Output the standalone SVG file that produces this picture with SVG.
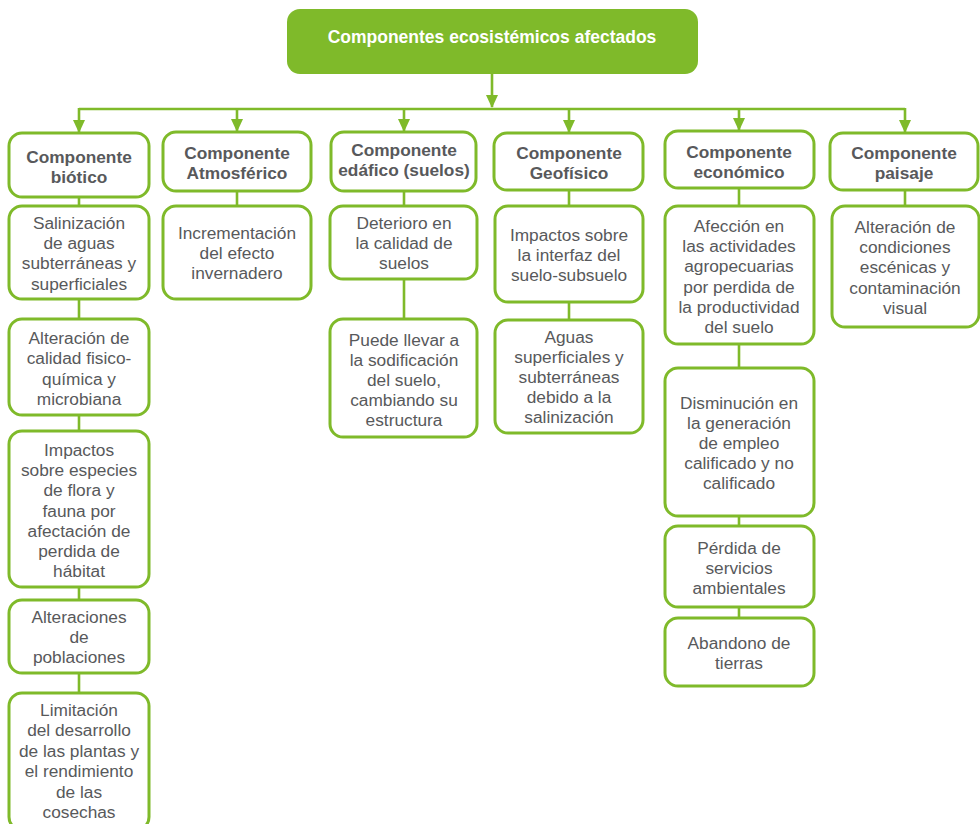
<svg xmlns="http://www.w3.org/2000/svg" width="980" height="824" viewBox="0 0 980 824">
<defs>
<marker id="ah" markerUnits="userSpaceOnUse" markerWidth="14" markerHeight="14" viewBox="0 0 14 14" refX="12" refY="7" orient="auto">
<path d="M0,1 L13,7 L0,13 Z" fill="#7fba2a"/>
</marker>
<style>
.box{fill:#fff;stroke:#7fba2a;stroke-width:3}
.hd{font-family:"Liberation Sans",Arial,sans-serif;font-weight:bold;font-size:17.3px;fill:#58595b;text-anchor:middle}
.tx{font-family:"Liberation Sans",Arial,sans-serif;font-size:17.3px;fill:#58595b;text-anchor:middle}
.ln{stroke:#7fba2a;stroke-width:2.6;fill:none}
.ar{stroke:#7fba2a;stroke-width:2.6;fill:none;marker-end:url(#ah)}
</style>
</defs>
<rect width="980" height="824" fill="#fff"/>

<g id="connectors">
<line class="ar" x1="492" y1="74" x2="492" y2="107"/>
<line class="ln" x1="79" y1="109" x2="905" y2="109"/>
<line class="ar" x1="79" y1="108" x2="79" y2="132"/>
<line class="ar" x1="237" y1="108" x2="237" y2="131"/>
<line class="ar" x1="404" y1="108" x2="404" y2="131"/>
<line class="ar" x1="569" y1="108" x2="569" y2="132"/>
<line class="ar" x1="739" y1="108" x2="739" y2="130"/>
<line class="ar" x1="905" y1="108" x2="905" y2="132"/>
<line class="ln" x1="79" y1="197" x2="79" y2="206"/>
<line class="ln" x1="79" y1="299" x2="79" y2="319"/>
<line class="ln" x1="79" y1="415" x2="79" y2="431"/>
<line class="ln" x1="79" y1="587" x2="79" y2="600"/>
<line class="ln" x1="79" y1="673" x2="79" y2="693"/>
<line class="ln" x1="237" y1="191" x2="237" y2="206"/>
<line class="ln" x1="404" y1="191" x2="404" y2="206"/>
<line class="ln" x1="404" y1="279" x2="404" y2="319"/>
<line class="ln" x1="569" y1="190" x2="569" y2="206"/>
<line class="ln" x1="569" y1="302" x2="569" y2="320"/>
<line class="ln" x1="739" y1="188" x2="739" y2="206"/>
<line class="ln" x1="739" y1="344" x2="739" y2="368"/>
<line class="ln" x1="739" y1="516" x2="739" y2="526"/>
<line class="ln" x1="739" y1="607" x2="739" y2="618"/>
<line class="ln" x1="905" y1="190" x2="905" y2="206"/>
</g>

<g id="root">
<rect x="287" y="9" width="411" height="65" rx="13" fill="#7fba2a"/>
<text x="492" y="43" font-family="Liberation Sans, Arial, sans-serif" font-weight="bold" font-size="17.5" fill="#fff" text-anchor="middle">Componentes ecosistémicos afectados</text>
</g>

<g id="h-biotico">
<rect class="box" x="9" y="133" width="140" height="64" rx="13"/>
<text class="hd" x="79"><tspan x="79" y="163">Componente</tspan><tspan x="79" y="183">biótico</tspan></text>
</g>
<g id="h-atmosferico">
<rect class="box" x="163" y="132" width="148" height="59" rx="13"/>
<text class="hd"><tspan x="237" y="159">Componente</tspan><tspan x="237" y="179">Atmosférico</tspan></text>
</g>
<g id="h-edafico">
<rect class="box" x="331" y="132" width="145" height="59" rx="13"/>
<text class="hd"><tspan x="404" y="156">Componente</tspan><tspan x="404" y="176">edáfico (suelos)</tspan></text>
</g>
<g id="h-geofisico">
<rect class="box" x="494" y="133" width="149" height="57" rx="13"/>
<text class="hd"><tspan x="569" y="159">Componente</tspan><tspan x="569" y="179">Geofísico</tspan></text>
</g>
<g id="h-economico">
<rect class="box" x="665" y="131" width="149" height="57" rx="13"/>
<text class="hd"><tspan x="739" y="158">Componente</tspan><tspan x="739" y="178">económico</tspan></text>
</g>
<g id="h-paisaje">
<rect class="box" x="830" y="133" width="148" height="57" rx="13"/>
<text class="hd"><tspan x="904" y="159">Componente</tspan><tspan x="904" y="179">paisaje</tspan></text>
</g>

<g id="b1">
<rect class="box" x="9" y="206" width="140" height="93" rx="13"/>
<text class="tx"><tspan x="79" y="229">Salinización</tspan><tspan x="79" y="249">de aguas</tspan><tspan x="79" y="269">subterráneas y</tspan><tspan x="79" y="290">superficiales</tspan></text>
</g>
<g id="b2">
<rect class="box" x="9" y="319" width="140" height="96" rx="13"/>
<text class="tx"><tspan x="79" y="344">Alteración de</tspan><tspan x="79" y="364">calidad fisico-</tspan><tspan x="79" y="385">química y</tspan><tspan x="79" y="405">microbiana</tspan></text>
</g>
<g id="b3">
<rect class="box" x="9" y="431" width="140" height="156" rx="13"/>
<text class="tx"><tspan x="79" y="456">Impactos</tspan><tspan x="79" y="476">sobre especies</tspan><tspan x="79" y="496">de flora y</tspan><tspan x="79" y="517">fauna por</tspan><tspan x="79" y="537">afectación de</tspan><tspan x="79" y="557">perdida de</tspan><tspan x="79" y="577">hábitat</tspan></text>
</g>
<g id="b4">
<rect class="box" x="9" y="600" width="140" height="73" rx="13"/>
<text class="tx"><tspan x="79" y="623">Alteraciones</tspan><tspan x="79" y="643">de</tspan><tspan x="79" y="663">poblaciones</tspan></text>
</g>
<g id="b5">
<rect class="box" x="9" y="693" width="140" height="137" rx="13"/>
<text class="tx"><tspan x="79" y="716">Limitación</tspan><tspan x="79" y="736">del desarrollo</tspan><tspan x="79" y="757">de las plantas y</tspan><tspan x="79" y="777">el rendimiento</tspan><tspan x="79" y="798">de las</tspan><tspan x="79" y="818">cosechas</tspan></text>
</g>

<g id="a1">
<rect class="box" x="163" y="206" width="148" height="93" rx="13"/>
<text class="tx"><tspan x="237" y="239">Incrementación</tspan><tspan x="237" y="259">del efecto</tspan><tspan x="237" y="279">invernadero</tspan></text>
</g>

<g id="e1">
<rect class="box" x="330" y="206" width="147" height="73" rx="13"/>
<text class="tx"><tspan x="404" y="229">Deterioro en</tspan><tspan x="404" y="249">la calidad de</tspan><tspan x="404" y="269">suelos</tspan></text>
</g>
<g id="e2">
<rect class="box" x="330" y="319" width="147" height="118" rx="13"/>
<text class="tx"><tspan x="404" y="346">Puede llevar a</tspan><tspan x="404" y="366">la sodificación</tspan><tspan x="404" y="386">del suelo,</tspan><tspan x="404" y="406">cambiando su</tspan><tspan x="404" y="426">estructura</tspan></text>
</g>

<g id="g1">
<rect class="box" x="495" y="206" width="148" height="96" rx="13"/>
<text class="tx"><tspan x="569" y="241">Impactos sobre</tspan><tspan x="569" y="261">la interfaz del</tspan><tspan x="569" y="281">suelo-subsuelo</tspan></text>
</g>
<g id="g2">
<rect class="box" x="495" y="320" width="148" height="113" rx="13"/>
<text class="tx"><tspan x="569" y="343">Aguas</tspan><tspan x="569" y="363">superficiales y</tspan><tspan x="569" y="383">subterráneas</tspan><tspan x="569" y="403">debido a la</tspan><tspan x="569" y="423">salinización</tspan></text>
</g>

<g id="c1">
<rect class="box" x="665" y="206" width="149" height="138" rx="13"/>
<text class="tx"><tspan x="739" y="232">Afección en</tspan><tspan x="739" y="252">las actividades</tspan><tspan x="739" y="272">agropecuarias</tspan><tspan x="739" y="293">por perdida de</tspan><tspan x="739" y="313">la productividad</tspan><tspan x="739" y="333">del suelo</tspan></text>
</g>
<g id="c2">
<rect class="box" x="665" y="368" width="149" height="148" rx="13"/>
<text class="tx"><tspan x="739" y="409">Disminución en</tspan><tspan x="739" y="429">la generación</tspan><tspan x="739" y="449">de empleo</tspan><tspan x="739" y="469">calificado y no</tspan><tspan x="739" y="489">calificado</tspan></text>
</g>
<g id="c3">
<rect class="box" x="665" y="526" width="149" height="81" rx="13"/>
<text class="tx"><tspan x="739" y="554">Pérdida de</tspan><tspan x="739" y="574">servicios</tspan><tspan x="739" y="594">ambientales</tspan></text>
</g>
<g id="c4">
<rect class="box" x="665" y="618" width="149" height="68" rx="13"/>
<text class="tx"><tspan x="739" y="649">Abandono de</tspan><tspan x="739" y="669">tierras</tspan></text>
</g>

<g id="p1">
<rect class="box" x="832" y="206" width="147" height="121" rx="13"/>
<text class="tx"><tspan x="905" y="233">Alteración de</tspan><tspan x="905" y="253">condiciones</tspan><tspan x="905" y="273">escénicas y</tspan><tspan x="905" y="294">contaminación</tspan><tspan x="905" y="314">visual</tspan></text>
</g>
</svg>
